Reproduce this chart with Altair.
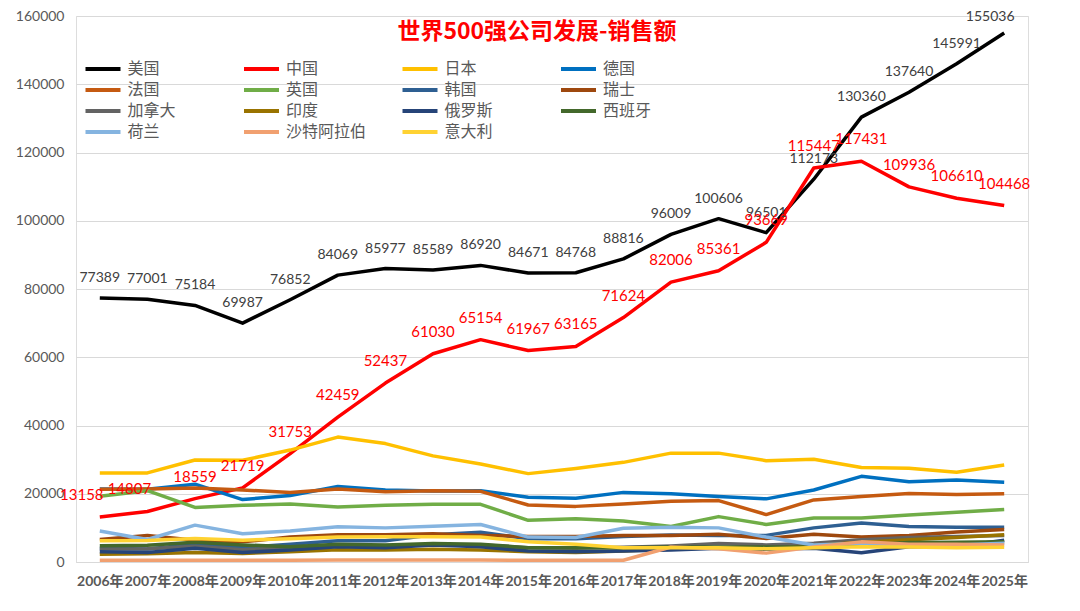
import altair as alt
import pandas as pd

years = [f"{y}年" for y in range(2006, 2026)]

countries = ["美国", "中国", "日本", "德国", "法国", "英国", "韩国", "瑞士",
             "加拿大", "印度", "俄罗斯", "西班牙", "荷兰", "沙特阿拉伯", "意大利"]
colors = ["#000000", "#FF0000", "#FFC000", "#0070C0", "#C55A11", "#70AD47", "#2E5F92", "#9E480E",
          "#636363", "#997300", "#264478", "#43682B", "#85B4E0", "#F1A070", "#FFD232"]

us = [77389, 77001, 75184, 69987, 76852, 84069, 85977, 85589, 86920, 84671,
      84768, 88816, 96009, 100606, 96501, 112173, 130360, 137640, 145991, 155036]
china = [13158, 14807, 18559, 21719, 31753, 42459, 52437, 61030, 65154, 61967,
         63165, 71624, 82006, 85361, 93669, 115447, 117431, 109936, 106610, 104468]
japan = [26100, 26100, 29900, 29800, 32800, 36600, 34700, 31100, 28700, 25900,
         27400, 29200, 31900, 31900, 29700, 30100, 27700, 27500, 26300, 28400]
germany = [21400, 21300, 22800, 18300, 19500, 22100, 21100, 20800, 20900, 19000,
           18700, 20400, 20000, 19200, 18500, 21100, 25100, 23500, 24000, 23400]
france = [21300, 21400, 21700, 21100, 20400, 21400, 20600, 20900, 20700, 16700,
          16300, 17000, 17800, 18000, 13900, 18200, 19200, 20100, 19800, 20000]
uk = [19300, 20900, 16000, 16600, 17000, 16100, 16600, 16900, 16900, 12200,
      12700, 12000, 10400, 13300, 11000, 12900, 12900, 13800, 14600, 15400]
korea = [4000, 3800, 5200, 4200, 5200, 6200, 6200, 8000, 8700, 6800,
         6800, 7500, 7900, 7800, 7800, 10000, 11400, 10400, 10200, 10200]
switzerland = [6600, 7800, 6400, 5900, 7300, 8000, 8000, 8300, 7800, 7500,
               7500, 7800, 7800, 8100, 6900, 8100, 7300, 7800, 8800, 9500]
canada = [3800, 3900, 4600, 3600, 4300, 4900, 4800, 5000, 5000, 4200,
          4000, 4300, 4700, 5400, 5000, 5500, 6500, 7200, 7500, 7800]
india = [2300, 2400, 2800, 2500, 3000, 3600, 3500, 3700, 3500, 3000,
         2800, 3200, 3800, 4200, 3800, 4800, 5800, 6500, 7200, 8000]
russia = [3000, 2800, 4000, 2800, 3500, 4500, 4200, 5000, 4500, 3200,
          3000, 3200, 3500, 4000, 3800, 4000, 2700, 4500, 4500, 6400]
spain = [4750, 4900, 5800, 5000, 4500, 5200, 5000, 5400, 5200, 4200,
         4200, 4200, 4400, 4400, 4400, 4400, 5000, 5700, 5800, 5900]
netherlands = [9100, 6600, 10800, 8300, 9100, 10300, 10000, 10500, 11000, 7300,
               7200, 9900, 10200, 10000, 7300, 5000, 5500, 5000, 5000, 5500]
saudi = [500, 500, 500, 500, 500, 600, 600, 600, 600, 500,
         500, 500, 4400, 3900, 2600, 4400, 5900, 5200, 5200, 5000]
italy = [6200, 6300, 6900, 6400, 6800, 7300, 7400, 7400, 7300, 5900,
         5200, 4200, 4200, 4200, 3900, 4200, 4500, 4400, 4200, 4300]

series = [us, china, japan, germany, france, uk, korea, switzerland,
          canada, india, russia, spain, netherlands, saudi, italy]

rows = []
for ci, (name, vals) in enumerate(zip(countries, series)):
    for yi, (yr, v) in enumerate(zip(years, vals)):
        rows.append({"country": name, "year": yr, "value": v, "order": ci, "idx": yi})
df = pd.DataFrame(rows)

NUM_FONT = "Lato, Noto Sans CJK SC"
CJK_FONT = "Noto Sans CJK SC"

x_enc = alt.X("year:O", sort=years, title=None,
              scale=alt.Scale(paddingOuter=0.5),
              axis=alt.Axis(labelAngle=0, labelFont=NUM_FONT, labelFontSize=14,
                            labelFontWeight="bold", labelColor="#595959",
                            ticks=False, domainColor="#D9D9D9", labelPadding=12,
                            labelOverlap=False, grid=False))
y_enc = alt.Y("value:Q", title=None,
              scale=alt.Scale(domain=[0, 160000], nice=False),
              axis=alt.Axis(values=list(range(0, 160001, 20000)), format="d",
                            labelFont=NUM_FONT, labelFontSize=14, labelColor="#595959",
                            ticks=False, domain=False, gridColor="#D9D9D9",
                            labelPadding=12))

base = alt.Chart(df)

lines = base.mark_line(strokeWidth=3.5, strokeJoin="round").encode(
    x=x_enc,
    y=y_enc,
    color=alt.Color("country:N", sort=countries,
                    scale=alt.Scale(domain=countries, range=colors),
                    legend=alt.Legend(title=None, orient="none", legendX=19, legendY=45,
                                      direction="horizontal",
                                      columns=4, symbolType="M-3.5,0H3.5", symbolSize=100,
                                      symbolStrokeWidth=4, labelFont=CJK_FONT,
                                      labelFontSize=16, labelColor="#595959",
                                      columnPadding=27.5, rowPadding=5, gridAlign="all",
                                      labelOffset=16.5, padding=0)),
    order=alt.Order("idx:Q"),
    detail="country:N",
)

us_text = base.transform_filter(
    (alt.datum.country == "美国") & (alt.datum.idx < 19)).mark_text(
    dy=-20, fontSize=14, font=NUM_FONT, color="#404040").encode(
    x=alt.X("year:O", sort=years), y="value:Q", text="value:Q")

us_last = base.transform_filter(
    (alt.datum.country == "美国") & (alt.datum.idx == 19)).mark_text(
    dy=-16, dx=-14, fontSize=14, font=NUM_FONT, color="#404040").encode(
    x=alt.X("year:O", sort=years), y="value:Q", text="value:Q")

cn_first = base.transform_filter(
    (alt.datum.country == "中国") & (alt.datum.idx < 2)).mark_text(
    dy=-22, dx=-18, fontSize=15, font=NUM_FONT, color="#FF0000").encode(
    x=alt.X("year:O", sort=years), y="value:Q", text="value:Q")

cn_text = base.transform_filter(
    (alt.datum.country == "中国") & (alt.datum.idx >= 2)).mark_text(
    dy=-22, fontSize=15, font=NUM_FONT, color="#FF0000").encode(
    x=alt.X("year:O", sort=years), y="value:Q", text="value:Q")

chart = alt.layer(lines, us_text, us_last, cn_first, cn_text).properties(
    width=952, height=546,
    autosize=alt.AutoSizeParams(type="none"),
    padding={"left": 68, "top": 8, "right": 40, "bottom": 30},
    title=alt.TitleParams("世界500强公司发展-销售额", color="#FF0000", fontSize=23,
                          font=CJK_FONT, fontWeight="bold", anchor="middle",
                          offset=-35, dx=-15),
).configure_view(stroke=None).configure(background="white")

chart.save("out.html", embed_options={"renderer": "svg", "actions": False})
